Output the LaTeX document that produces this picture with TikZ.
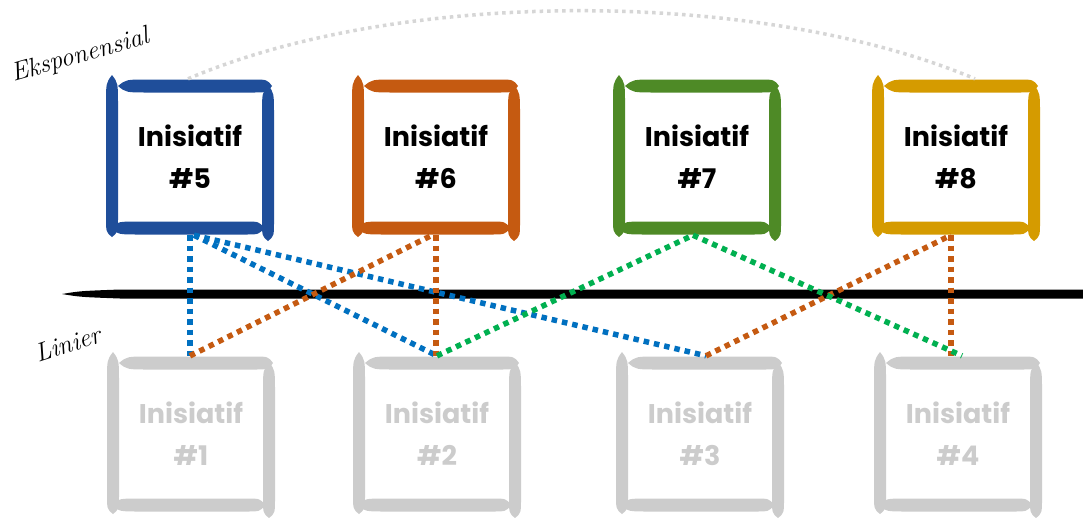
\documentclass[tikz,border=0pt]{standalone}
\usepackage{fontspec}
\newfontfamily\boxfont{Poppins}
\definecolor{bxblue}{HTML}{1F4E9A}
\definecolor{bxorange}{HTML}{C55A11}
\definecolor{bxgreen}{HTML}{4E8A26}
\definecolor{bxgold}{HTML}{D59B00}
\definecolor{bxgray}{HTML}{CCCCCC}
\definecolor{lnblue}{HTML}{0070C0}
\definecolor{lnorange}{HTML}{C55A11}
\definecolor{lngreen}{HTML}{00B050}
\definecolor{lngray}{HTML}{D6D6D6}

% horizontal brush stroke: x from #1 to #2 at height #3
\newcommand\hbrush[3]{\fill (#1,#3) .. controls (#1+8,#3-6.5) .. (#1+30,#3-6.5) -- (#2-20,#3-6.5) .. controls (#2-5,#3-6.5) .. (#2,#3) .. controls (#2-5,#3+6.5) .. (#2-20,#3+6.5) -- (#1+30,#3+6.5) .. controls (#1+8,#3+6.5) .. (#1,#3) -- cycle;}
% vertical brush stroke: y from #1 to #2 at x = #3
\newcommand\vbrush[3]{\fill (#3,#1) .. controls (#3-6,#1+8) .. (#3-6,#1+30) -- (#3-6,#2-20) .. controls (#3-6,#2-5) .. (#3,#2) .. controls (#3+6,#2-5) .. (#3+6,#2-20) -- (#3+6,#1+30) .. controls (#3+6,#1+8) .. (#3,#1) -- cycle;}
% painted frame around a named box node
\newcommand\brushframe[2]{%
  \begin{scope}[shift={(#1.center)}, color=#2]
    \hbrush{-72}{82}{-71}
    \hbrush{-80}{74}{71}
    \vbrush{-82}{80}{-78}
    \vbrush{-72}{84}{78}
  \end{scope}}

\tikzset{
  boxnode/.style={minimum width=168pt, minimum height=156pt, inner sep=0pt,
    align=center, font=\boxfont\bfseries\fontsize{27}{42}\selectfont},
  topbox/.style={boxnode, text=black},
  lowbox/.style={boxnode, text=bxgray},
  dotline/.style={line width=5.5pt, dash pattern=on 5.5pt off 5pt},
  arcline/.style={line width=3.5pt, dash pattern=on 3.5pt off 4pt, color=lngray},
  axislabel/.style={font=\itshape\fontsize{26}{30}\selectfont, inner sep=0pt},
}

\begin{document}
\begin{tikzpicture}[x=1pt, y=-1pt]
\useasboundingbox[fill=white] (0,0) rectangle (1083,517);

% exponential row
\node[topbox] (b5) at (190,157) {Inisiatif\\\#5};
\node[topbox] (b6) at (436,157) {Inisiatif\\\#6};
\node[topbox] (b7) at (697,157) {Inisiatif\\\#7};
\node[topbox] (b8) at (956,157) {Inisiatif\\\#8};
% linear row
\node[lowbox] (b1) at (191,434) {Inisiatif\\\#1};
\node[lowbox] (b2) at (437,434) {Inisiatif\\\#2};
\node[lowbox] (b3) at (700,434) {Inisiatif\\\#3};
\node[lowbox] (b4) at (958,434) {Inisiatif\\\#4};

\brushframe{b5}{bxblue}
\brushframe{b6}{bxorange}
\brushframe{b7}{bxgreen}
\brushframe{b8}{bxgold}
\brushframe{b1}{bxgray}
\brushframe{b2}{bxgray}
\brushframe{b3}{bxgray}
\brushframe{b4}{bxgray}

% row labels
\node[axislabel, rotate=16] (lexp) at (80,56) {Eksponensial};
\node[axislabel, rotate=18] (llin) at (68,344) {Linier};

% dividing brush line
\fill[black] (62,294) .. controls (80,291) .. (120,289.5) -- (1083,289.5) -- (1083,298.5) -- (120,298.5) .. controls (80,297) .. (62,294) -- cycle;

% arc over the top row
\draw[arcline] ([xshift=-2pt]b5.north) .. controls (400,-12) and (760,-12) .. ([xshift=19pt]b8.north);

% connectors
\draw[dotline, lnblue] (b5.south) -- (b5.south |- b1.north);
\draw[dotline, lnblue] ([xshift=4pt]b5.south) -- (b2.north);
\draw[dotline, lnblue] ([xshift=4pt]b5.south) -- ([xshift=6pt]b3.north);
\draw[dotline, lnorange] (b5.south |- b1.north) -- ([xshift=-4pt]b6.south);
\draw[dotline, lnorange] (b6.south) -- (b6.south |- b2.north);
\draw[dotline, lnorange] ([xshift=6pt]b3.north) -- ([xshift=-5pt]b8.south);
\draw[dotline, lnorange] ([xshift=-5pt]b8.south) -- ([xshift=-5pt]b8.south |- b4.north);
\draw[dotline, lngreen] (b2.north) -- ([xshift=-4pt]b7.south);
\draw[dotline, lngreen] ([xshift=-4pt]b7.south) -- ([xshift=4pt]b4.north);
\end{tikzpicture}
\end{document}
